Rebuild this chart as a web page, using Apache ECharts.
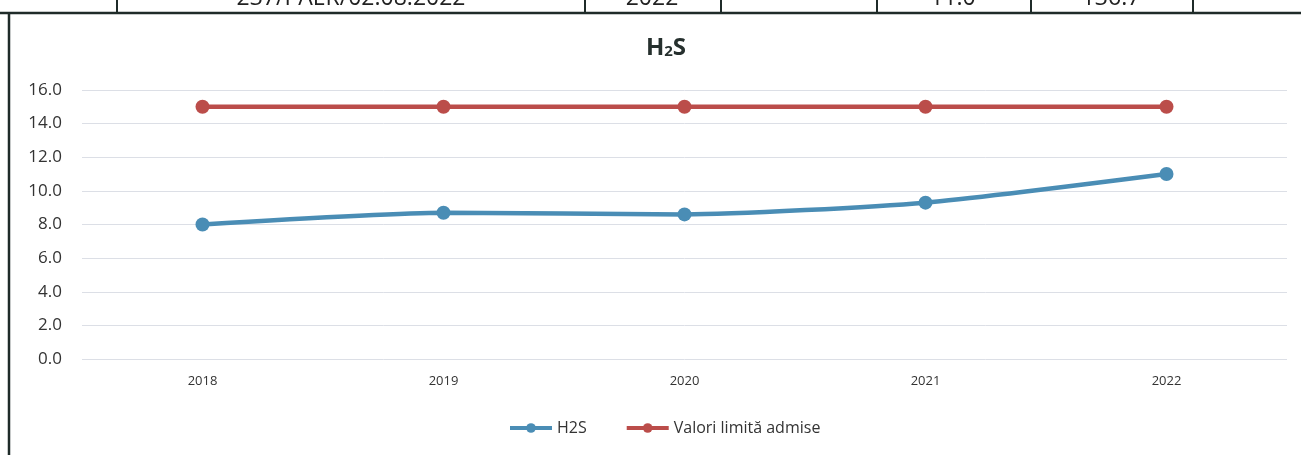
<!DOCTYPE html>
<html>
<head>
<meta charset="utf-8">
<script src="https://cdn.jsdelivr.net/npm/echarts@6/dist/echarts.min.js"></script>
<style>
html, body {margin:0; padding:0; background:#fff;}
#chart {width:1301px; height:455px;}
</style>
</head>
<body>
<div id="chart"></div>
<script>
// ani
var years = ['2018', '2019', '2020', '2021', '2022'];
var h2s = [8.0, 8.7, 8.6, 9.3, 11.0];
var limita = [15.0, 15.0, 15.0, 15.0, 15.0];
var yTicks = [0, 2, 4, 6, 8, 10, 12, 14, 16];
// fragment din tabelul de deasupra graficului
var tableCells = ['237/PAER/02.08.2022', '2022', '11.0', '136.7'];

var blue = '#4a8db5', red = '#bb4d4a', ink = '#1f2b29';

var chart = echarts.init(document.getElementById('chart'));

var tableX = [351, 652, 953, 1111];
var tableLines = [117, 585, 721, 877, 1031, 1193];
var graphic = [];
for (var i = 0; i < tableLines.length; i++) {
    graphic.push({type:'line', shape:{x1:tableLines[i], y1:0, x2:tableLines[i], y2:13}, style:{stroke:ink, lineWidth:2}});
}
for (var j = 0; j < tableCells.length; j++) {
    graphic.push({type:'text', x:tableX[j], y:10, style:{text:tableCells[j], font:'23px "Open Sans", sans-serif', fill:'#222', align:'center', verticalAlign:'bottom'}});
}
// chenarul graficului
graphic.push({type:'line', shape:{x1:0, y1:13, x2:1301, y2:13}, style:{stroke:ink, lineWidth:2.5}});
graphic.push({type:'line', shape:{x1:9, y1:13, x2:9, y2:455}, style:{stroke:ink, lineWidth:2.5}});

var option = {
    animation: false,
    title: {
        text: '{a|H}{b|2}{a|S}',
        left: 661, top: 31, textAlign: 'center',
        textStyle: {
            rich: {
                a: {fontFamily:'"Open Sans", sans-serif', fontSize:24, fontWeight:'bold', color:'#26302e'},
                b: {fontFamily:'"Open Sans", sans-serif', fontSize:15, fontWeight:'bold', color:'#26302e', padding:[8,0,0,0]}
            }
        }
    },
    graphic: graphic,
    grid: {left:82, right:14, top:90, bottom:96},
    legend: {
        bottom: 14, left: 503,
        itemWidth: 42, itemHeight: 12, itemGap: 38,
        lineStyle: {width:4},
        textStyle: {fontFamily:'"Open Sans", sans-serif', fontSize:16, color:'#333'},
        data: ['H2S', 'Valori limită admise']
    },
    xAxis: {
        type: 'category',
        data: years,
        axisLine: {show:false},
        axisTick: {show:false},
        axisLabel: {fontFamily:'"Open Sans", sans-serif', fontSize:13, color:'#333', margin:16}
    },
    yAxis: {
        type: 'value',
        min: yTicks[0], max: yTicks[yTicks.length - 1], interval: 2,
        axisLine: {show:false},
        axisTick: {show:false},
        axisLabel: {fontFamily:'"Open Sans", sans-serif', fontSize:17, color:'#333', margin:20,
            formatter: function(v){ return v.toFixed(1); }},
        splitLine: {lineStyle:{color:'#dcdfe6', width:1}}
    },
    series: [
        {
            name: 'H2S', type: 'line', data: h2s, smooth: 0.2,
            symbol: 'circle', symbolSize: 14,
            lineStyle: {color:blue, width:4.5},
            itemStyle: {color:blue}
        },
        {
            name: 'Valori limită admise', type: 'line', data: limita, smooth: 0.2,
            symbol: 'circle', symbolSize: 14,
            lineStyle: {color:red, width:4.5},
            itemStyle: {color:red}
        }
    ]
};
chart.setOption(option);
</script>
</body>
</html>
